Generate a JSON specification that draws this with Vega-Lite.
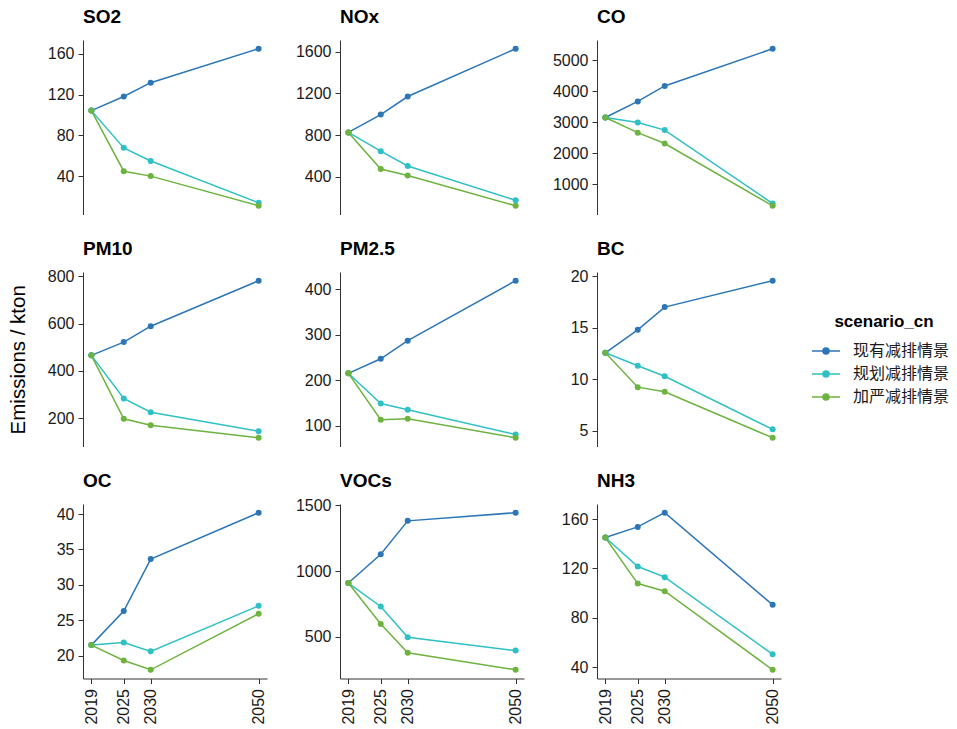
{
  "$schema": "https://vega.github.io/schema/vega-lite/v6.json",
  "padding": {"left": 8, "top": 8, "right": 0, "bottom": 0},
  "background": "white",
  "data": {"values": [
    {"p":"SO2","s":"现有减排情景","year":2019,"value":104.3},{"p":"SO2","s":"现有减排情景","year":2025,"value":118.1},{"p":"SO2","s":"现有减排情景","year":2030,"value":131.6},{"p":"SO2","s":"现有减排情景","year":2050,"value":164.8},
    {"p":"SO2","s":"规划减排情景","year":2019,"value":104.3},{"p":"SO2","s":"规划减排情景","year":2025,"value":67.9},{"p":"SO2","s":"规划减排情景","year":2030,"value":55.1},{"p":"SO2","s":"规划减排情景","year":2050,"value":14.2},
    {"p":"SO2","s":"加严减排情景","year":2019,"value":104.3},{"p":"SO2","s":"加严减排情景","year":2025,"value":45.1},{"p":"SO2","s":"加严减排情景","year":2030,"value":40.3},{"p":"SO2","s":"加严减排情景","year":2050,"value":11.3},
    {"p":"NOx","s":"现有减排情景","year":2019,"value":826},{"p":"NOx","s":"现有减排情景","year":2025,"value":997},{"p":"NOx","s":"现有减排情景","year":2030,"value":1170},{"p":"NOx","s":"现有减排情景","year":2050,"value":1628},
    {"p":"NOx","s":"规划减排情景","year":2019,"value":826},{"p":"NOx","s":"规划减排情景","year":2025,"value":646},{"p":"NOx","s":"规划减排情景","year":2030,"value":504},{"p":"NOx","s":"规划减排情景","year":2050,"value":176},
    {"p":"NOx","s":"加严减排情景","year":2019,"value":826},{"p":"NOx","s":"加严减排情景","year":2025,"value":476},{"p":"NOx","s":"加严减排情景","year":2030,"value":414},{"p":"NOx","s":"加严减排情景","year":2050,"value":123},
    {"p":"CO","s":"现有减排情景","year":2019,"value":3149},{"p":"CO","s":"现有减排情景","year":2025,"value":3669},{"p":"CO","s":"现有减排情景","year":2030,"value":4170},{"p":"CO","s":"现有减排情景","year":2050,"value":5373},
    {"p":"CO","s":"规划减排情景","year":2019,"value":3149},{"p":"CO","s":"规划减排情景","year":2025,"value":2989},{"p":"CO","s":"规划减排情景","year":2030,"value":2744},{"p":"CO","s":"规划减排情景","year":2050,"value":372},
    {"p":"CO","s":"加严减排情景","year":2019,"value":3149},{"p":"CO","s":"加严减排情景","year":2025,"value":2660},{"p":"CO","s":"加严减排情景","year":2030,"value":2309},{"p":"CO","s":"加严减排情景","year":2050,"value":298},
    {"p":"PM10","s":"现有减排情景","year":2019,"value":466},{"p":"PM10","s":"现有减排情景","year":2025,"value":522},{"p":"PM10","s":"现有减排情景","year":2030,"value":589},{"p":"PM10","s":"现有减排情景","year":2050,"value":781},
    {"p":"PM10","s":"规划减排情景","year":2019,"value":466},{"p":"PM10","s":"规划减排情景","year":2025,"value":284},{"p":"PM10","s":"规划减排情景","year":2030,"value":226},{"p":"PM10","s":"规划减排情景","year":2050,"value":146},
    {"p":"PM10","s":"加严减排情景","year":2019,"value":466},{"p":"PM10","s":"加严减排情景","year":2025,"value":198},{"p":"PM10","s":"加严减排情景","year":2030,"value":171},{"p":"PM10","s":"加严减排情景","year":2050,"value":118},
    {"p":"PM2.5","s":"现有减排情景","year":2019,"value":215},{"p":"PM2.5","s":"现有减排情景","year":2025,"value":247},{"p":"PM2.5","s":"现有减排情景","year":2030,"value":287},{"p":"PM2.5","s":"现有减排情景","year":2050,"value":419},
    {"p":"PM2.5","s":"规划减排情景","year":2019,"value":215},{"p":"PM2.5","s":"规划减排情景","year":2025,"value":148.5},{"p":"PM2.5","s":"规划减排情景","year":2030,"value":135},{"p":"PM2.5","s":"规划减排情景","year":2050,"value":80},
    {"p":"PM2.5","s":"加严减排情景","year":2019,"value":215},{"p":"PM2.5","s":"加严减排情景","year":2025,"value":113},{"p":"PM2.5","s":"加严减排情景","year":2030,"value":115},{"p":"PM2.5","s":"加严减排情景","year":2050,"value":73},
    {"p":"BC","s":"现有减排情景","year":2019,"value":12.57},{"p":"BC","s":"现有减排情景","year":2025,"value":14.8},{"p":"BC","s":"现有减排情景","year":2030,"value":17.0},{"p":"BC","s":"现有减排情景","year":2050,"value":19.56},
    {"p":"BC","s":"规划减排情景","year":2019,"value":12.57},{"p":"BC","s":"规划减排情景","year":2025,"value":11.32},{"p":"BC","s":"规划减排情景","year":2030,"value":10.3},{"p":"BC","s":"规划减排情景","year":2050,"value":5.15},
    {"p":"BC","s":"加严减排情景","year":2019,"value":12.57},{"p":"BC","s":"加严减排情景","year":2025,"value":9.24},{"p":"BC","s":"加严减排情景","year":2030,"value":8.79},{"p":"BC","s":"加严减排情景","year":2050,"value":4.33},
    {"p":"OC","s":"现有减排情景","year":2019,"value":21.48},{"p":"OC","s":"现有减排情景","year":2025,"value":26.3},{"p":"OC","s":"现有减排情景","year":2030,"value":33.65},{"p":"OC","s":"现有减排情景","year":2050,"value":40.2},
    {"p":"OC","s":"规划减排情景","year":2019,"value":21.48},{"p":"OC","s":"规划减排情景","year":2025,"value":21.86},{"p":"OC","s":"规划减排情景","year":2030,"value":20.6},{"p":"OC","s":"规划减排情景","year":2050,"value":27.03},
    {"p":"OC","s":"加严减排情景","year":2019,"value":21.48},{"p":"OC","s":"加严减排情景","year":2025,"value":19.3},{"p":"OC","s":"加严减排情景","year":2030,"value":17.99},{"p":"OC","s":"加严减排情景","year":2050,"value":25.92},
    {"p":"VOCs","s":"现有减排情景","year":2019,"value":909},{"p":"VOCs","s":"现有减排情景","year":2025,"value":1128},{"p":"VOCs","s":"现有减排情景","year":2030,"value":1382},{"p":"VOCs","s":"现有减排情景","year":2050,"value":1444},
    {"p":"VOCs","s":"规划减排情景","year":2019,"value":909},{"p":"VOCs","s":"规划减排情景","year":2025,"value":731},{"p":"VOCs","s":"规划减排情景","year":2030,"value":497},{"p":"VOCs","s":"规划减排情景","year":2050,"value":395},
    {"p":"VOCs","s":"加严减排情景","year":2019,"value":909},{"p":"VOCs","s":"加严减排情景","year":2025,"value":598},{"p":"VOCs","s":"加严减排情景","year":2030,"value":379},{"p":"VOCs","s":"加严减排情景","year":2050,"value":249},
    {"p":"NH3","s":"现有减排情景","year":2019,"value":145},{"p":"NH3","s":"现有减排情景","year":2025,"value":153.6},{"p":"NH3","s":"现有减排情景","year":2030,"value":165.1},{"p":"NH3","s":"现有减排情景","year":2050,"value":90.6},
    {"p":"NH3","s":"规划减排情景","year":2019,"value":145},{"p":"NH3","s":"规划减排情景","year":2025,"value":121.6},{"p":"NH3","s":"规划减排情景","year":2030,"value":113},{"p":"NH3","s":"规划减排情景","year":2050,"value":50.6},
    {"p":"NH3","s":"加严减排情景","year":2019,"value":145},{"p":"NH3","s":"加严减排情景","year":2025,"value":107.8},{"p":"NH3","s":"加严减排情景","year":2030,"value":101.6},{"p":"NH3","s":"加严减排情景","year":2050,"value":38.1}
  ]},
  "columns": 3,
  "spacing": {"row": 57, "column": 73},
  "bounds": "flush",
  "resolve": {"scale": {"color": "shared"}},
  "concat": [
    {"title": {"text": "SO2"}, "width": 184, "height": 174.5,
     "transform": [{"filter": "datum.p === 'SO2'"}],
     "mark": {"type": "line", "point": {"filled": true, "size": 36}, "strokeWidth": 1.5},
     "encoding": {
       "x": {"field": "year", "type": "quantitative", "scale": {"domain": [2017.45, 2051.55], "nice": false, "zero": false}, "axis": null},
       "y": {"field": "value", "type": "quantitative", "scale": {"zero": false, "nice": false, "padding": 8.7}, "axis": {"values": [40, 80, 120, 160], "format": "d", "title": null}},
       "color": {"field": "s", "type": "nominal", "scale": {"domain": ["现有减排情景", "规划减排情景", "加严减排情景"], "range": ["#2C76B7", "#2EC0C4", "#6DB33F"]},
         "legend": {"title": "scenario_cn", "orient": "none", "legendX": 735, "legendY": 274, "titleAnchor": "middle", "titlePadding": 12, "symbolType": "M-2,0L2,0M-0.43,0A0.43,0.43,0,1,0,0.43,0A0.43,0.43,0,1,0,-0.43,0Z", "symbolSize": 196, "symbolStrokeWidth": 1.5, "labelOffset": 19, "rowPadding": 7,
           "encode": {"symbols": {"update": {"fill": {"scale": "color", "field": "value"}, "stroke": {"scale": "color", "field": "value"}}}}}}
     }},
    {"title": {"text": "NOx"}, "width": 184, "height": 174.5,
     "transform": [{"filter": "datum.p === 'NOx'"}],
     "mark": {"type": "line", "point": {"filled": true, "size": 36}, "strokeWidth": 1.5},
     "encoding": {
       "x": {"field": "year", "type": "quantitative", "scale": {"domain": [2017.45, 2051.55], "nice": false, "zero": false}, "axis": null},
       "y": {"field": "value", "type": "quantitative", "scale": {"zero": false, "nice": false, "padding": 8.7}, "axis": {"values": [400, 800, 1200, 1600], "format": "d", "title": null}},
       "color": {"field": "s", "type": "nominal"}
     }},
    {"title": {"text": "CO"}, "width": 184, "height": 174.5,
     "transform": [{"filter": "datum.p === 'CO'"}],
     "mark": {"type": "line", "point": {"filled": true, "size": 36}, "strokeWidth": 1.5},
     "encoding": {
       "x": {"field": "year", "type": "quantitative", "scale": {"domain": [2017.45, 2051.55], "nice": false, "zero": false}, "axis": null},
       "y": {"field": "value", "type": "quantitative", "scale": {"zero": false, "nice": false, "padding": 8.7}, "axis": {"values": [1000, 2000, 3000, 4000, 5000], "format": "d", "title": null}},
       "color": {"field": "s", "type": "nominal"}
     }},
    {"title": {"text": "PM10", "offset": 9}, "width": 184, "height": 174.5,
     "transform": [{"filter": "datum.p === 'PM10'"}],
     "mark": {"type": "line", "point": {"filled": true, "size": 36}, "strokeWidth": 1.5},
     "encoding": {
       "x": {"field": "year", "type": "quantitative", "scale": {"domain": [2017.45, 2051.55], "nice": false, "zero": false}, "axis": null},
       "y": {"field": "value", "type": "quantitative", "scale": {"zero": false, "nice": false, "padding": 8.7}, "axis": {"values": [200, 400, 600, 800], "format": "d", "title": "Emissions / kton", "titlePadding": 18.5}},
       "color": {"field": "s", "type": "nominal"}
     }},
    {"title": {"text": "PM2.5"}, "width": 184, "height": 174.5,
     "transform": [{"filter": "datum.p === 'PM2.5'"}],
     "mark": {"type": "line", "point": {"filled": true, "size": 36}, "strokeWidth": 1.5},
     "encoding": {
       "x": {"field": "year", "type": "quantitative", "scale": {"domain": [2017.45, 2051.55], "nice": false, "zero": false}, "axis": null},
       "y": {"field": "value", "type": "quantitative", "scale": {"zero": false, "nice": false, "padding": 8.7}, "axis": {"values": [100, 200, 300, 400], "format": "d", "title": null}},
       "color": {"field": "s", "type": "nominal"}
     }},
    {"title": {"text": "BC", "offset": 9}, "width": 184, "height": 174.5,
     "transform": [{"filter": "datum.p === 'BC'"}],
     "mark": {"type": "line", "point": {"filled": true, "size": 36}, "strokeWidth": 1.5},
     "encoding": {
       "x": {"field": "year", "type": "quantitative", "scale": {"domain": [2017.45, 2051.55], "nice": false, "zero": false}, "axis": null},
       "y": {"field": "value", "type": "quantitative", "scale": {"zero": false, "nice": false, "padding": 8.7}, "axis": {"values": [5, 10, 15, 20], "format": "d", "title": null}},
       "color": {"field": "s", "type": "nominal"}
     }},
    {"title": {"text": "OC"}, "width": 184, "height": 174.5,
     "transform": [{"filter": "datum.p === 'OC'"}],
     "mark": {"type": "line", "point": {"filled": true, "size": 36}, "strokeWidth": 1.5},
     "encoding": {
       "x": {"field": "year", "type": "quantitative", "scale": {"domain": [2017.45, 2051.55], "nice": false, "zero": false}, "axis": {"values": [2019, 2025, 2030, 2050], "format": "d", "labelAngle": 270, "title": null}},
       "y": {"field": "value", "type": "quantitative", "scale": {"zero": false, "nice": false, "padding": 8.7}, "axis": {"values": [20, 25, 30, 35, 40], "format": "d", "title": null}},
       "color": {"field": "s", "type": "nominal"}
     }},
    {"title": {"text": "VOCs", "offset": 6}, "width": 184, "height": 174.5,
     "transform": [{"filter": "datum.p === 'VOCs'"}],
     "mark": {"type": "line", "point": {"filled": true, "size": 36}, "strokeWidth": 1.5},
     "encoding": {
       "x": {"field": "year", "type": "quantitative", "scale": {"domain": [2017.45, 2051.55], "nice": false, "zero": false}, "axis": {"values": [2019, 2025, 2030, 2050], "format": "d", "labelAngle": 270, "title": null}},
       "y": {"field": "value", "type": "quantitative", "scale": {"zero": false, "nice": false, "padding": 8.7}, "axis": {"values": [500, 1000, 1500], "format": "d", "title": null}},
       "color": {"field": "s", "type": "nominal"}
     }},
    {"title": {"text": "NH3"}, "width": 184, "height": 174.5,
     "transform": [{"filter": "datum.p === 'NH3'"}],
     "mark": {"type": "line", "point": {"filled": true, "size": 36}, "strokeWidth": 1.5},
     "encoding": {
       "x": {"field": "year", "type": "quantitative", "scale": {"domain": [2017.45, 2051.55], "nice": false, "zero": false}, "axis": {"values": [2019, 2025, 2030, 2050], "format": "d", "labelAngle": 270, "title": null}},
       "y": {"field": "value", "type": "quantitative", "scale": {"zero": false, "nice": false, "padding": 8.7}, "axis": {"values": [40, 80, 120, 160], "format": "d", "title": null}},
       "color": {"field": "s", "type": "nominal"}
     }}
  ],
  "config": {
    "view": {"stroke": null},
    "font": "Liberation Sans",
    "title": {"anchor": "start", "frame": "group", "fontSize": 19, "fontWeight": "bold", "font": "Liberation Sans", "color": "#000000", "offset": 13},
    "axis": {"grid": false, "domainColor": "#333333", "tickColor": "#333333", "labelColor": "#1a1a1a", "labelFont": "Liberation Sans", "labelFontSize": 16, "tickSize": 5, "labelPadding": 4, "titleFont": "Liberation Sans", "titleFontSize": 20.5, "titleFontWeight": "normal", "titleColor": "#000000"},
    "axisX": {"labelPadding": 5},
    "legend": {"titleFont": "Liberation Sans", "titleFontSize": 17, "titleFontWeight": "bold", "titleColor": "#000000", "labelFont": "Noto Sans CJK SC", "labelFontSize": 16, "labelColor": "#1a1a1a"}
  }
}
